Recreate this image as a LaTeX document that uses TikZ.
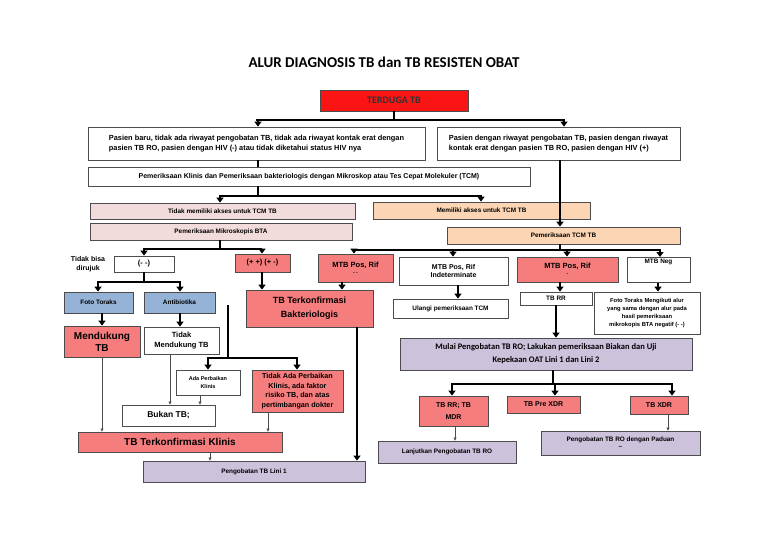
\documentclass[tikz,border=0pt]{standalone}
\usepackage{fontspec}
\setmainfont{Liberation Sans}
\newfontfamily\carl{Carlito}
\usetikzlibrary{arrows.meta}
\definecolor{rd}{RGB}{246,125,125}
\definecolor{hdr}{RGB}{250,20,20}
\definecolor{bl}{RGB}{149,179,215}
\definecolor{pu}{RGB}{204,194,220}
\definecolor{lp}{RGB}{242,220,219}
\definecolor{pe}{RGB}{252,213,180}
\tikzset{
 bx/.style={draw=black!70,line width=0.8pt,inner sep=1pt,align=center,font=\bfseries\fontsize{6.4}{7.8}\selectfont},
 thk/.style={line width=2.4pt,-{Triangle[length=5pt,width=7pt]}},
 thkl/.style={line width=2.4pt},
 thn/.style={line width=0.5pt,black!70,-{Triangle[length=3pt,width=3pt]}},
}
\begin{document}
\begin{tikzpicture}[x=1pt,y=-1pt]
\useasboundingbox (0,0) rectangle (768,543);
\node[font=\carl\bfseries\fontsize{15}{17}\selectfont] (title) at (384,62) {ALUR DIAGNOSIS TB dan TB RESISTEN OBAT};
\node[bx,fill=hdr,minimum width=148,minimum height=21,font=\carl\bfseries\fontsize{10}{12}\selectfont,text=black!80] (ter) at (394,100.5) {TERDUGA TB};
\node[bx,minimum width=337,minimum height=33,align=left,font=\bfseries\fontsize{7.4}{9.5}\selectfont] (A) at (256.5,143.5) {Pasien baru, tidak ada riwayat pengobatan TB, tidak ada riwayat kontak erat dengan\\pasien TB RO, pasien dengan HIV (-) atau tidak diketahui status HIV nya};
\node[bx,minimum width=243,minimum height=33,align=left,font=\bfseries\fontsize{7.4}{9.5}\selectfont] (B) at (558.5,143.5) {Pasien dengan riwayat pengobatan TB, pasien dengan riwayat\\kontak erat dengan pasien TB RO, pasien dengan HIV (+)};
\node[bx,minimum width=442,minimum height=19,font=\bfseries\fontsize{7}{8}\selectfont] (K) at (309,176.5) {Pemeriksaan Klinis dan Pemeriksaan bakteriologis dengan Mikroskop atau Tes Cepat Molekuler (TCM)};
\node[bx,fill=lp,minimum width=265,minimum height=16] (TM) at (222.5,211) {Tidak memiliki akses untuk TCM TB};
\node[bx,fill=pe,minimum width=217,minimum height=17] (M) at (481.5,210.5) {Memiliki akses untuk TCM TB};
\node[bx,fill=lp,minimum width=262,minimum height=17] (MB) at (221,231.5) {Pemeriksaan Mikroskopis BTA};
\node[bx,fill=pe,minimum width=233,minimum height=17] (TCM) at (563.5,235.5) {Pemeriksaan TCM TB};
\node[bx,minimum width=60,minimum height=16,font=\bfseries\fontsize{7.5}{9}\selectfont] (nn) at (144,264) {(- -)};
\node[font=\bfseries\fontsize{7}{8.5}\selectfont,align=center] (tbd) at (88,264) {Tidak bisa\\dirujuk};
\node[bx,fill=rd,minimum width=55,minimum height=18,font=\bfseries\fontsize{7.5}{9}\selectfont] (pp) at (262.5,263) {(+ +) (+ -)};
\node[bx,fill=rd,minimum width=75,minimum height=28,font=\bfseries\fontsize{7.5}{9}\selectfont] (mp1) at (355.5,268) {MTB Pos, Rif\\[-2pt]{\tiny - -}};
\node[bx,fill=rd,minimum width=127,minimum height=37,font=\bfseries\fontsize{9}{14}\selectfont] (bak) at (309.5,308.5) {TB Terkonfirmasi\\Bakteriologis};
\node[bx,fill=bl,minimum width=69,minimum height=21] (ft) at (98.5,302.5) {Foto Toraks};
\node[bx,fill=bl,minimum width=71,minimum height=21] (ab) at (179.5,302.5) {Antibiotika};
\node[bx,fill=rd,minimum width=76,minimum height=31,font=\bfseries\fontsize{10}{12}\selectfont] (md) at (102,341.5) {Mendukung\\TB};
\node[bx,minimum width=75,minimum height=27,font=\bfseries\fontsize{7.5}{9.5}\selectfont] (tmd) at (181.5,340.5) {Tidak\\Mendukung TB};
\node[bx,minimum width=64,minimum height=25,font=\bfseries\fontsize{5.5}{7.5}\selectfont] (ada) at (208,382.5) {Ada Perbaikan\\Klinis};
\node[bx,fill=rd,minimum width=91,minimum height=42,font=\bfseries\fontsize{7.2}{9.5}\selectfont] (tada) at (297.5,391) {Tidak Ada Perbaikan\\Klinis, ada faktor\\risiko TB, dan atas\\pertimbangan dokter};
\node[bx,minimum width=93,minimum height=21,font=\bfseries\fontsize{8.5}{10}\selectfont] (bkn) at (168.5,415.5) {Bukan TB;};
\node[bx,fill=rd,minimum width=204,minimum height=20,font=\bfseries\fontsize{10}{12}\selectfont] (kli) at (180,442) {TB Terkonfirmasi Klinis};
\node[bx,fill=pu,minimum width=222,minimum height=21] (p1) at (254,471.5) {Pengobatan TB Lini 1};
\node[bx,minimum width=109,minimum height=28,font=\bfseries\fontsize{7}{8.5}\selectfont] (ind) at (453.5,271) {MTB Pos, Rif\\Indeterminate};
\node[bx,minimum width=115,minimum height=19] (ul) at (450.5,308.5) {Ulangi pemeriksaan TCM};
\node[bx,fill=rd,minimum width=101,minimum height=25,font=\bfseries\fontsize{7.5}{9}\selectfont] (mp2) at (567.5,269.5) {MTB Pos, Rif\\[-2pt]{\tiny -}};
\node[bx,minimum width=63,minimum height=25,anchor=north] (neg) at (658.5,257) {MTB Neg\\[9pt]};
\node[bx,minimum width=72,minimum height=13] (rr) at (556,298.5) {TB RR};
\node[bx,minimum width=106,minimum height=42,font=\bfseries\fontsize{5.8}{8}\selectfont] (ftm) at (647,313) {Foto Toraks Mengikuti alur\\yang sama dengan alur pada\\hasil pemeriksaan\\mikrokopis BTA negatif (- -)};
\node[bx,fill=pu,minimum width=292,minimum height=32,font=\carl\bfseries\fontsize{8.5}{13}\selectfont] (mul) at (546,354) {Mulai Pengobatan TB RO; Lakukan pemeriksaan Biakan dan Uji\\Kepekaan OAT Lini 1 dan Lini 2};
\node[bx,fill=rd,minimum width=69,minimum height=30,font=\bfseries\fontsize{7}{12}\selectfont] (mdr) at (453.5,411) {TB RR; TB\\MDR};
\node[bx,fill=rd,minimum width=73,minimum height=17,font=\bfseries\fontsize{7}{8.5}\selectfont] (pre) at (543.5,404.5) {TB Pre XDR};
\node[bx,fill=rd,minimum width=58,minimum height=18,font=\bfseries\fontsize{7}{8.5}\selectfont] (xdr) at (659,405) {TB XDR};
\node[bx,fill=pu,minimum width=138,minimum height=22] (lan) at (447,452) {Lanjutkan Pengobatan TB RO};
\node[bx,fill=pu,minimum width=159,minimum height=24,font=\bfseries\fontsize{6.4}{9}\selectfont] (pad) at (620.5,443) {Pengobatan TB RO dengan Paduan\\[-2pt]--};
% connectors
\draw[thkl] (ter.south) -- (394,120);
\draw[thk] (258,120) -- (258,127|-A.north);
\draw[thk] (256,120) -- (564,120) -- (564,127|-B.north);
\draw[thkl] (258,160) -- (258,167);
\draw[thk] (B.south-|560,0) -- (TCM.north-|560,0);
\draw[thkl] (K.south-|258,0) -- (258,196);
\draw[thk] (220,196) -- (220,203|-TM.north);
\draw[thk] (219,196) -- (481,196) -- (M.north-|481,0);
\draw[thkl] (MB.south-|220,0) -- (220,249);
\draw[thk] (144,249) -- (nn.north-|144,0);
\draw[thk] (143,249) -- (262,249) -- (pp.north-|262,0);
\draw[thkl] (TCM.south-|560,0) -- (560,250);
\draw[thk] (354,250) -- (mp1.north-|354,0);
\draw[thk] (453,250) -- (ind.north-|453,0);
\draw[thk] (567,250) -- (mp2.north-|567,0);
\draw[thk] (353,250) -- (660,250) -- (neg.north-|660,0);
\draw[thkl] (nn.south-|144,0) -- (144,282);
\draw[thk] (98,282) -- (ft.north-|98,0);
\draw[thk] (97,282) -- (180,282) -- (ab.north-|180,0);
\draw[thk] (ft.south-|102,0) -- (md.north-|102,0);
\draw[thk] (ab.south-|180,0) -- (tmd.north-|180,0);
\coordinate (fr) at (228,305);
\draw[thkl] (fr) -- (228,358);
\draw[thk] (208,358) -- (ada.north-|208,0);
\draw[thk] (207,358) -- (297,358) -- (tada.north-|297,0);
\draw[thk] (pp.south-|262,0) -- (bak.north-|262,0);
\draw[thk] (mp1.south-|342,0) -- (bak.north-|342,0);
\draw[thk] (bak.south-|357,0) -- (p1.north-|357,0);
\draw[thn] (md.south-|102,0) -- (kli.north-|102,0);
\draw[thn] (tmd.south-|170,0) -- (bkn.north-|170,0);
\draw[thn] (ada.south-|200,0) -- (bkn.north-|200,0);
\draw[thn] (tada.south-|268,0) -- (kli.north-|268,0);
\draw[thn] (kli.south-|210,0) -- (p1.north-|210,0);
\draw[thk] (ind.south-|458,0) -- (ul.north-|458,0);
\draw[thk] (mp2.south-|560,0) -- (rr.north-|560,0);
\draw[thk] (neg.south-|658,0) -- (ftm.north-|658,0);
\draw[thk] (rr.south-|556,0) -- (mul.north-|556,0);
\draw[thkl] (mul.south-|553,0) -- (553,384);
\draw[thk] (452,384) -- (mdr.north-|452,0);
\draw[thk] (555,384) -- (pre.north-|555,0);
\draw[thk] (451,384) -- (672,384) -- (xdr.north-|672,0);
\draw[thn] (mdr.south-|455,0) -- (lan.north-|455,0);
\draw[thn] (xdr.south-|668,0) -- (pad.north-|668,0);
\end{tikzpicture}
\end{document}
